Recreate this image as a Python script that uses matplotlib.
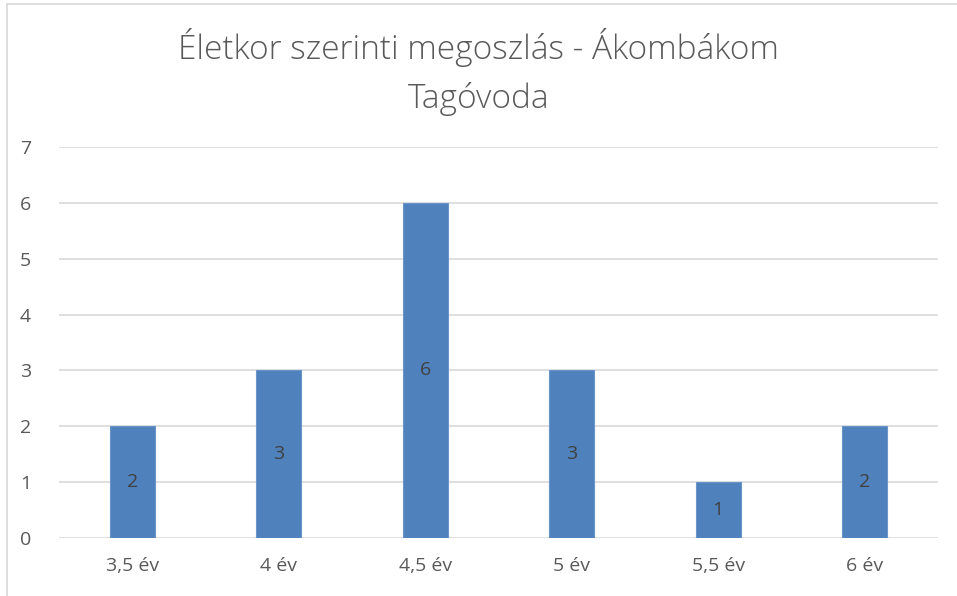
import numpy as np
import matplotlib.pyplot as plt
from matplotlib.lines import Line2D

categories = ["3,5 év", "4 év", "4,5 év", "5 év", "5,5 év", "6 év"]
values = [2, 3, 6, 3, 1, 2]
yticks = [0, 1, 2, 3, 4, 5, 6, 7]

plt.rcParams['font.family'] = ['Open Sans', 'DejaVu Sans']

W, H = 957, 596
fig = plt.figure(figsize=(W / 100, H / 100), dpi=100)
ax = fig.add_axes([59 / W, 1 - 538 / H, (938 - 59) / W, (538 - 147) / H])

x = np.arange(len(categories))
bars = ax.bar(x, values, width=0.31, color='#4F81BD', edgecolor='#6B95C8',
              linewidth=0.8, zorder=3)
for xi, v in zip(x, values):
    ax.text(xi, v / 2, str(v), ha='center', va='center', fontsize=14,
            color='#404040', zorder=4)

ax.set_xlim(-0.5, len(categories) - 0.5)
ax.set_ylim(0, 7)
ax.set_yticks(yticks)
ax.set_xticks(x)
ax.set_xticklabels(categories)
ax.tick_params(axis='both', length=0, labelsize=14, colors='#595959')
ax.tick_params(axis='y', pad=20)
ax.tick_params(axis='x', pad=14)
ax.grid(axis='y', color='#D9D9D9', linewidth=1.2, zorder=0)
for s in ax.spines.values():
    s.set_visible(False)

fig.text(0.5, 1 - 72 / H, "Életkor szerinti megoszlás - Ákombákom\nTagóvoda",
         ha='center', va='center', fontsize=24, color='#595959',
         linespacing=1.55, fontweight='light')

# outer frame (top and left edges visible)
fig.add_artist(Line2D([6.5 / W, 6.5 / W], [0, 1 - 3.5 / H], transform=fig.transFigure,
                      color='#D9D9D9', linewidth=1.2))
fig.add_artist(Line2D([6.5 / W, 1], [1 - 3.5 / H, 1 - 3.5 / H], transform=fig.transFigure,
                      color='#D9D9D9', linewidth=1.2))

fig.savefig('out.png', dpi=100)
